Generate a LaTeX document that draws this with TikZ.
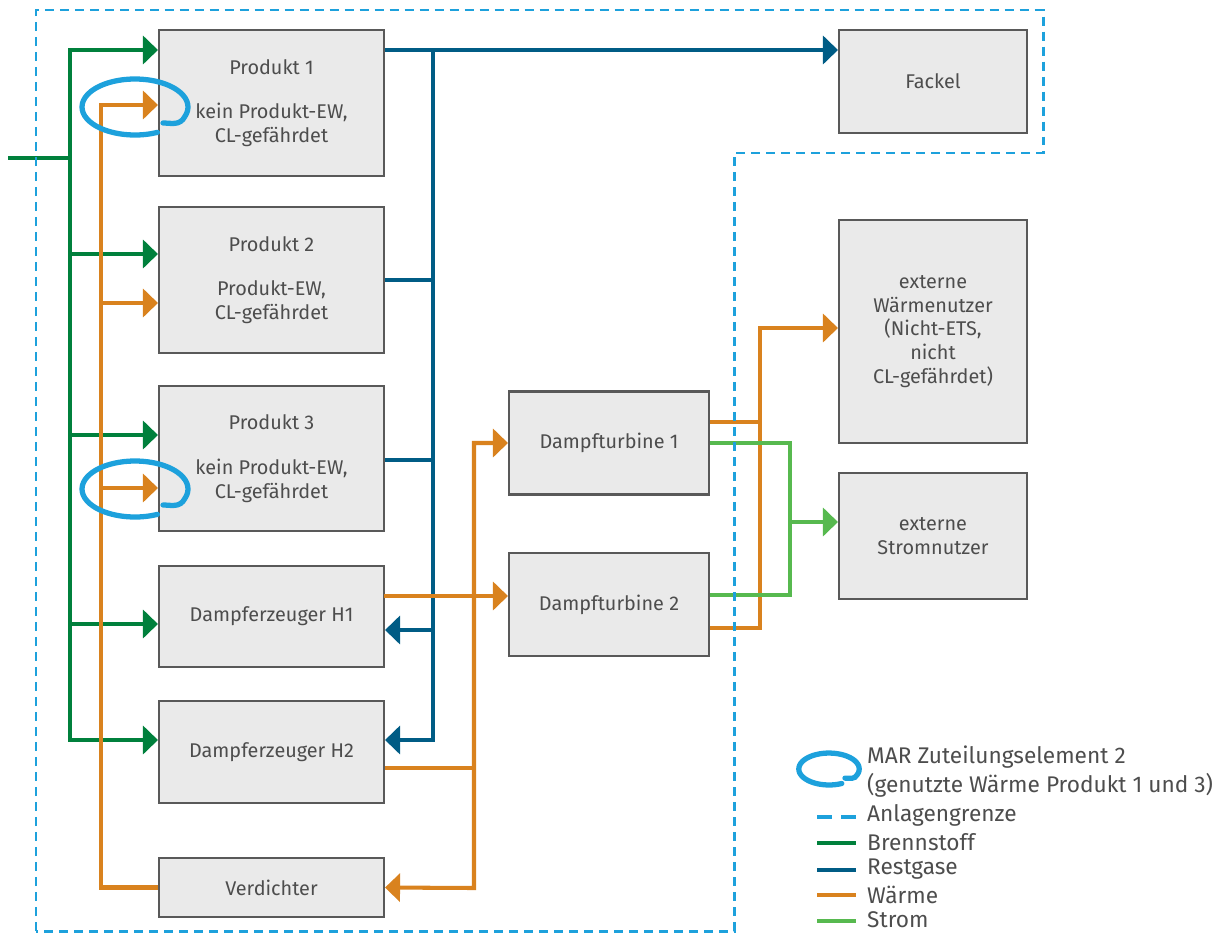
\documentclass[tikz,border=0pt]{standalone}
\usepackage{fontspec}
\setmainfont{Fira Sans}
\usepackage{xcolor}
\usetikzlibrary{arrows.meta}

\definecolor{brenngruen}{HTML}{00803C}
\definecolor{restblau}{HTML}{005C85}
\definecolor{waermeorange}{HTML}{D9821E}
\definecolor{stromgruen}{HTML}{57B94F}
\definecolor{grenzblau}{HTML}{1DA1DC}
\definecolor{boxgrau}{HTML}{EAEAEA}
\definecolor{textgrau}{HTML}{4D4D4D}

\begin{document}
\begin{tikzpicture}[x=0.02cm, y=-0.02cm,
    >={Triangle[length=0.3cm, width=0.56cm]},
    box/.style={draw=black!65, line width=1.2pt, fill=boxgrau, text=textgrau,
        align=center, font=\fontsize{11.3}{13.5}\selectfont},
    brenn/.style={draw=brenngruen, line width=2.3pt},
    rest/.style={draw=restblau, line width=2.3pt},
    waerme/.style={draw=waermeorange, line width=2.3pt},
    strom/.style={draw=stromgruen, line width=2.3pt},
    grenze/.style={draw=grenzblau, line width=1.7pt, dash pattern=on 0.18cm off 0.12cm},
    ring/.style={draw=grenzblau, line width=3pt, line cap=round},
    legende/.style={anchor=west, text=textgrau, align=left, font=\fontsize{12.9}{16.5}\selectfont}]
        \useasboundingbox (0,0) rectangle (1222,933);

        % Anlage
        \node[box, minimum width=4.5cm, minimum height=2.92cm] (p1) at (271.5,103) {Produkt 1\\[12pt]kein Produkt-EW,\\CL-gefährdet};
        \node[box, minimum width=4.5cm, minimum height=2.92cm] (p2) at (271.5,280) {Produkt 2\\[12pt]Produkt-EW,\\CL-gefährdet};
        \node[box, minimum width=4.5cm, minimum height=2.9cm] (p3) at (271.5,458.5) {Produkt 3\\[12pt]kein Produkt-EW,\\CL-gefährdet};
        \node[box, minimum width=4.5cm, minimum height=2.03cm] (h1) at (271.5,616.5) {Dampferzeuger H1};
        \node[box, minimum width=4.5cm, minimum height=2.04cm] (h2) at (271.5,752) {Dampferzeuger H2};
        \node[box, minimum width=4.5cm, minimum height=1.18cm] (verd) at (271.5,887.5) {Verdichter};
        \node[box, minimum width=4cm, minimum height=2.06cm] (dt1) at (609,443) {Dampfturbine 1};
        \node[box, minimum width=4cm, minimum height=2.06cm] (dt2) at (609,604.5) {Dampfturbine 2};

        % ausserhalb
        \node[box, minimum width=3.76cm, minimum height=2.06cm] (fackel) at (933,81.5) {Fackel};
        \node[box, minimum width=3.76cm, minimum height=4.46cm] (wn) at (933,331.5) {externe\\Wärmenutzer\\(Nicht-ETS,\\nicht\\CL-gefährdet)};
        \node[box, minimum width=3.76cm, minimum height=2.52cm] (sn) at (933,536) {externe\\Stromnutzer};

        \coordinate (fuel) at (8,158);
        \coordinate (g1) at (70,50);
        \coordinate (g2) at (70,254);
        \coordinate (g3) at (70,435);
        \coordinate (g4) at (70,624);
        \coordinate (g5) at (70,740);
        \coordinate (w1) at (101,105);
        \coordinate (w2) at (101,303);
        \coordinate (w3) at (101,488);
        \coordinate (r1) at (433,50);
        \coordinate (r2) at (433,280);
        \coordinate (r3) at (433,460);
        \coordinate (r4) at (433,630);
        \coordinate (r5) at (433,740);
        \coordinate (hw) at (384,596);
        \coordinate (s1) at (474,443);
        \coordinate (s2) at (474,768);
        \coordinate (s3) at (474,888);
        \coordinate (o1) at (760,422);
        \coordinate (o2) at (760,628);
        \coordinate (o3) at (760,328);
        \coordinate (e1) at (790,443);
        \coordinate (e2) at (790,595);
        \coordinate (e3) at (790,522);

        % Brennstoff
        \draw[brenn] (fuel) -- (fuel -| g1);
        \draw[brenn, <->] (g1 -| p1.west) -- (g1) -- (g5) -- (g5 -| h2.west);
        \foreach \g/\k in {g2/p2, g3/p3, g4/h1}
            \draw[brenn, ->] (\g) -- (\g -| \k.west);

        % Restgase
        \draw[rest, ->] (p1.east |- r1) -- (r1 -| fackel.west);
        \draw[rest, ->] (r1) -- (r5) -- (r5 -| h2.east);
        \draw[rest] (p2.east |- r2) -- (r2);
        \draw[rest] (p3.east |- r3) -- (r3);
        \draw[rest, ->] (r4) -- (r4 -| h1.east);

        % Waerme
        \draw[waerme, ->] (verd.west) -- (verd.west -| w1) -- (w1) -- (w1 -| p1.west);
        \draw[waerme, ->] (w2) -- (w2 -| p2.west);
        \draw[waerme, ->] (w3) -- (w3 -| p3.west);
        \draw[waerme, ->] (hw) -- (hw -| dt2.west);
        \draw[waerme, <->] (dt1.west) -- (s1) -- (s3) -- (verd.east);
        \draw[waerme] (h2.east |- s2) -- (s2);
        \draw[waerme] (o1 -| dt1.east) -- (o1);
        \draw[waerme, ->] (o2 -| dt2.east) -- (o2) -- (o3) -- (o3 -| wn.west);

        % Strom
        \draw[strom] (dt1.east) -- (e1) -- (e2) -- (e2 -| dt2.east);
        \draw[strom, ->] (e3) -- (e3 -| sn.west);

        % Anlagengrenze
        \draw[grenze] (36,931) -- (36,10) -- (1043,10) -- (1043,153) -- (734,153) -- (734,931) -- cycle;

        % MAR Zuteilungselement
        \foreach \cx/\cy/\s in {135/107/1, 135/489/1, 829/769/0.57}
            \draw[ring] plot[domain=-65:-380, samples=50, smooth] ({\cx+53*\s*cos(\x)}, {\cy-28*\s*sin(\x)})
                .. controls ({\cx+45*\s},{\cy+19*\s}) and ({\cx+36*\s},{\cy+16*\s}) .. ({\cx+28*\s},{\cy+16*\s});

        % Legende
        \node[legende] (l1) at (861,772) {MAR Zuteilungselement 2\\(genutzte Wärme Produkt 1 und 3)};
        \node[legende] (l2) at (861,815) {Anlagengrenze};
        \node[legende] (l3) at (861,842) {Brennstoff};
        \node[legende] (l4) at (861,869) {Restgase};
        \node[legende] (l5) at (861,895) {Wärme};
        \node[legende] (l6) at (861,920) {Strom};
        \draw[draw=grenzblau, line width=2.3pt, dash pattern=on 0.3cm off 0.18cm] (817,817) -- (856,817);
        \draw[brenn] (817,843) -- (856,843);
        \draw[rest] (817,870) -- (856,870);
        \draw[waerme] (817,895) -- (856,895);
        \draw[strom] (817,921) -- (856,921);
\end{tikzpicture}
\end{document}
